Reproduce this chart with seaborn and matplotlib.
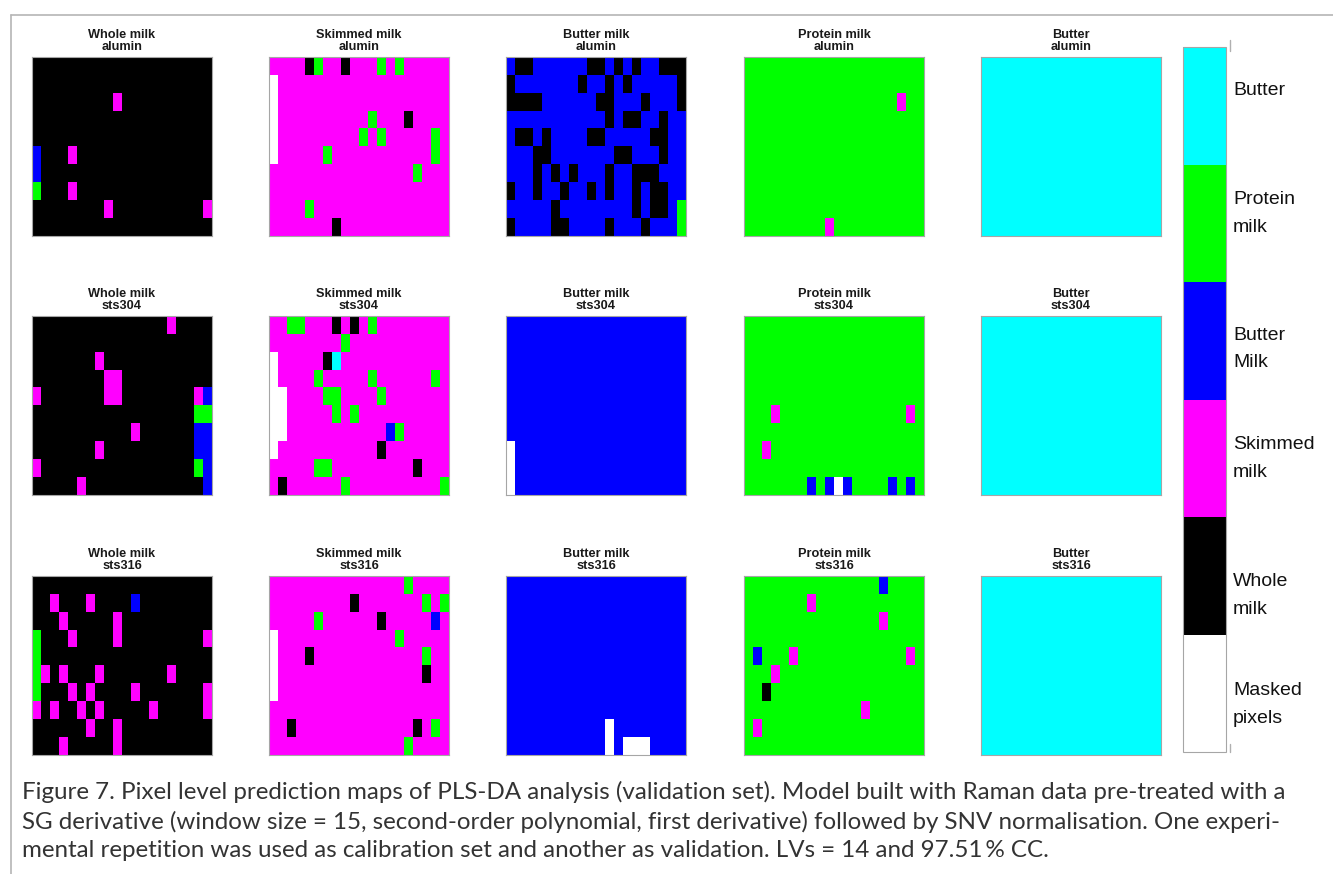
import numpy as np
import matplotlib
matplotlib.use("Agg")
import matplotlib.pyplot as plt
from matplotlib.colors import ListedColormap
from matplotlib.lines import Line2D
import seaborn as sns

# Class codes used in the prediction maps (bottom to top of the colour bar)
CLASS_CODES = ["M", "W", "S", "B", "P", "U"]
CLASS_LABELS = ["Masked\npixels", "Whole\nmilk", "Skimmed\nmilk", "Butter\nMilk", "Protein\nmilk", "Butter"]
CLASS_COLORS = ["#ffffff", "#000000", "#ff00ff", "#0000ff", "#00ff00", "#00ffff"]
LABEL_TICKS = [-0.035, 0.893, 2.06, 2.993, 4.145, 5.15]

SAMPLES = ["Whole milk", "Skimmed milk", "Butter milk", "Protein milk", "Butter"]
SURFACES = ["alumin", "sts304", "sts316"]

# Predicted class per pixel (10 rows x 20 columns)
whole_alumin = [
    "WWWWWWWWWWWWWWWWWWWW",
    "WWWWWWWWWWWWWWWWWWWW",
    "WWWWWWWWWSWWWWWWWWWW",
    "WWWWWWWWWWWWWWWWWWWW",
    "WWWWWWWWWWWWWWWWWWWW",
    "BWWWSWWWWWWWWWWWWWWW",
    "BWWWWWWWWWWWWWWWWWWW",
    "PWWWSWWWWWWWWWWWWWWW",
    "WWWWWWWWSWWWWWWWWWWS",
    "WWWWWWWWWWWWWWWWWWWW",
]
skimmed_alumin = [
    "SSSSWPSSWSSSPSPSSSSS",
    "MSSSSSSSSSSSSSSSSSSS",
    "MSSSSSSSSSSSSSSSSSSS",
    "MSSSSSSSSSSPSSSWSSSS",
    "MSSSSSSSSSPSPSSSSSPS",
    "MSSSSSPSSSSSSSSSSSPS",
    "SSSSSSSSSSSSSSSSPSSS",
    "SSSSSSSSSSSSSSSSSSSS",
    "SSSSPSSSSSSSSSSSSSSS",
    "SSSSSSSWSSSSSSSSSSSS",
]
buttermilk_alumin = [
    "BWWBBBBBBWWBWBWBBWWW",
    "WBBBBBBBWBBWBWBBBBBW",
    "WWWWBBBBBBWWBBBWBBBW",
    "BBBBBBBBBBBWBWWBBWBB",
    "BWWBWBBBBWWBBBBBWWBB",
    "BBBWWBBBBBBBWWBBBWBB",
    "BBBWBWBWBBBWBBWWWBBB",
    "WBBWBBWBBWBWBBWBWWBB",
    "BBBBBWBBBBBBBBWBWWBP",
    "WBBBBWWBBBBWBBBWBBBP",
]
protein_alumin = [
    "PPPPPPPPPPPPPPPPPPPP",
    "PPPPPPPPPPPPPPPPPPPP",
    "PPPPPPPPPPPPPPPPPSPP",
    "PPPPPPPPPPPPPPPPPPPP",
    "PPPPPPPPPPPPPPPPPPPP",
    "PPPPPPPPPPPPPPPPPPPP",
    "PPPPPPPPPPPPPPPPPPPP",
    "PPPPPPPPPPPPPPPPPPPP",
    "PPPPPPPPPPPPPPPPPPPP",
    "PPPPPPPPPSPPPPPPPPPP",
]
butter_alumin = ["UUUUUUUUUUUUUUUUUUUU"] * 10

whole_sts304 = [
    "WWWWWWWWWWWWWWWSWWWW",
    "WWWWWWWWWWWWWWWWWWWW",
    "WWWWWWWSWWWWWWWWWWWW",
    "WWWWWWWWSSWWWWWWWWWW",
    "SWWWWWWWSSWWWWWWWWSB",
    "WWWWWWWWWWWWWWWWWWPP",
    "WWWWWWWWWWWSWWWWWWBB",
    "WWWWWWWSWWWWWWWWWWBB",
    "SWWWWWWWWWWWWWWWWWPB",
    "WWWWWSWWWWWWWWWWWWWB",
]
skimmed_sts304 = [
    "SSPPSSSWSWSPSSSSSSSS",
    "SSSSSSSSPSSSSSSSSSSS",
    "MSSSSSWUSSSSSSSSSSSS",
    "MSSSSPSSSSSPSSSSSSPS",
    "MMSSSSPPSSSSPSSSSSSS",
    "MMSSSSSPSPSSSSSSSSSS",
    "MMSSSSSSSSSSSBPSSSSS",
    "MSSSSSSSSSSSWSSSSSSS",
    "SSSSSPPSSSSSSSSSWSSS",
    "SWSSSSSSPSSSSSSSSSSP",
]
buttermilk_sts304 = ["BBBBBBBBBBBBBBBBBBBB"] * 7 + ["MBBBBBBBBBBBBBBBBBBB"] * 3
protein_sts304 = [
    "PPPPPPPPPPPPPPPPPPPP",
    "PPPPPPPPPPPPPPPPPPPP",
    "PPPPPPPPPPPPPPPPPPPP",
    "PPPPPPPPPPPPPPPPPPPP",
    "PPPPPPPPPPPPPPPPPPPP",
    "PPPSPPPPPPPPPPPPPPSP",
    "PPPPPPPPPPPPPPPPPPPP",
    "PPSPPPPPPPPPPPPPPPPP",
    "PPPPPPPPPPPPPPPPPPPP",
    "PPPPPPPBPBMBPPPPBPBP",
]
butter_sts304 = ["UUUUUUUUUUUUUUUUUUUU"] * 10

whole_sts316 = [
    "WWWWWWWWWWWWWWWWWWWW",
    "WWSWWWSWWWWBWWWWWWWW",
    "WWWSWWWWWSWWWWWWWWWW",
    "PWWWSWWWWSWWWWWWWWWS",
    "PWWWWWWWWWWWWWWWWWWW",
    "PSWSWWWSWWWWWWWSWWWW",
    "PWWWSWSWWWWSWWWWWWWS",
    "SWSWWSWSWWWWWSWWWWWS",
    "WWWWWWSWWSWWWWWWWWWW",
    "WWWSWWWWWSWWWWWWWWWW",
]
skimmed_sts316 = [
    "SSSSSSSSSSSSSSSPSSSS",
    "SSSSSSSSSWSSSSSSSPSP",
    "SSSSSPSSSSSSWSSSSSBS",
    "MSSSSSSSSSSSSSPSSSSS",
    "MSSSWSSSSSSSSSSSSPSS",
    "MSSSSSSSSSSSSSSSSWSS",
    "MSSSSSSSSSSSSSSSSSSS",
    "SSSSSSSSSSSSSSSSSSSS",
    "SSWSSSSSSSSSSSSSWSPS",
    "SSSSSSSSSSSSSSSPSSSS",
]
buttermilk_sts316 = ["BBBBBBBBBBBBBBBBBBBB"] * 8 + [
    "BBBBBBBBBBBMBBBBBBBB",
    "BBBBBBBBBBBMBMMMBBBB",
]
protein_sts316 = [
    "PPPPPPPPPPPPPPPBPPPP",
    "PPPPPPPSPPPPPPPPPPPP",
    "PPPPPPPPPPPPPPPSPPPP",
    "PPPPPPPPPPPPPPPPPPPP",
    "PBPPPSPPPPPPPPPPPPSP",
    "PPPSPPPPPPPPPPPPPPPP",
    "PPWPPPPPPPPPPPPPPPPP",
    "PPPPPPPPPPPPPSPPPPPP",
    "PSPPPPPPPPPPPPPPPPPP",
    "PPPPPPPPPPPPPPPPPPPP",
]
butter_sts316 = ["UUUUUUUUUUUUUUUUUUUU"] * 10

MAPS = [
    [whole_alumin, skimmed_alumin, buttermilk_alumin, protein_alumin, butter_alumin],
    [whole_sts304, skimmed_sts304, buttermilk_sts304, protein_sts304, butter_sts304],
    [whole_sts316, skimmed_sts316, buttermilk_sts316, protein_sts316, butter_sts316],
]

CAPTION = (
    "Figure 7. Pixel level prediction maps of PLS-DA analysis (validation set). Model built with Raman data pre-treated with a\n"
    "SG derivative (window size = 15, second-order polynomial, first derivative) followed by SNV normalisation. One experi-\n"
    "mental repetition was used as calibration set and another as validation. LVs = 14 and 97.51\u2009% CC."
)


def to_codes(rows):
    lookup = {c: i for i, c in enumerate(CLASS_CODES)}
    for r in rows:
        if len(r) != 20:
            raise ValueError(f"bad row length: {r}")
    return np.array([[lookup[c] for c in r] for r in rows], dtype=float)


W_PX, H_PX = 1333, 874
sns.set_style("white")
plt.rcParams["font.family"] = ["Liberation Sans", "DejaVu Sans"]
fig = plt.figure(figsize=(W_PX / 100, H_PX / 100), dpi=100)


def fig_rect(x0, y0, x1, y1):
    return [x0 / W_PX, 1 - y1 / H_PX, (x1 - x0) / W_PX, (y1 - y0) / H_PX]


cmap = ListedColormap(CLASS_COLORS)
col_left = [32, 269, 506, 744, 981]
row_top = [57, 316, 576]
panel_w, panel_h = 180, 178.5
edge = "#a6a6a6"

cax = fig.add_axes(fig_rect(1183, 47, 1226, 752))
cbar = None

for i, surface in enumerate(SURFACES):
    for j, sample in enumerate(SAMPLES):
        x0, y0 = col_left[j], row_top[i]
        ax = fig.add_axes(fig_rect(x0, y0, x0 + panel_w, y0 + panel_h))
        first = (i == 0 and j == 0)
        sns.heatmap(
            to_codes(MAPS[i][j]), ax=ax, cmap=cmap, vmin=-0.5, vmax=5.5,
            cbar=first, cbar_ax=cax if first else None,
            xticklabels=False, yticklabels=False, linewidths=0,
        )
        if first:
            cbar = ax.collections[0].colorbar
        for s in ax.spines.values():
            s.set_visible(True)
            s.set_color(edge)
            s.set_linewidth(0.8)
        ax.set_title(f"{sample}\n{surface}", fontsize=9.2, fontweight="bold",
                     color="#1a1a1a", pad=5, linespacing=1.05)

cbar.set_ticks(LABEL_TICKS)
cbar.set_ticklabels(CLASS_LABELS)
cbar.ax.tick_params(length=0, labelsize=14, pad=5, colors="#111111")
for t in cbar.ax.get_yticklabels():
    t.set_linespacing(1.8)
cbar.outline.set_visible(True)
cbar.outline.set_edgecolor(edge)
cbar.outline.set_linewidth(0.8)
# small end marks to the right of the colour bar
ytr = cbar.ax.get_yaxis_transform()
cbar.ax.plot([1.09, 1.09], [5.56, 5.47], transform=ytr, color="#b0b0b0", lw=1, clip_on=False)
cbar.ax.plot([1.09, 1.09], [-0.5, -0.43], transform=ytr, color="#b0b0b0", lw=1, clip_on=False)

# page frame lines
fig.add_artist(Line2D([11 / W_PX, 11 / W_PX], [0, 1 - 15 / H_PX], color="#b5b5b5", lw=1.2))
fig.add_artist(Line2D([11 / W_PX, 1], [1 - 15 / H_PX, 1 - 15 / H_PX], color="#b5b5b5", lw=1.2))

fig.text(22 / W_PX, 1 - 781 / H_PX, CAPTION, ha="left", va="top",
         fontfamily=["Lato", "DejaVu Sans"], fontsize=17.4, color="#333333", linespacing=1.42)

fig.savefig("out.png", dpi=100)
